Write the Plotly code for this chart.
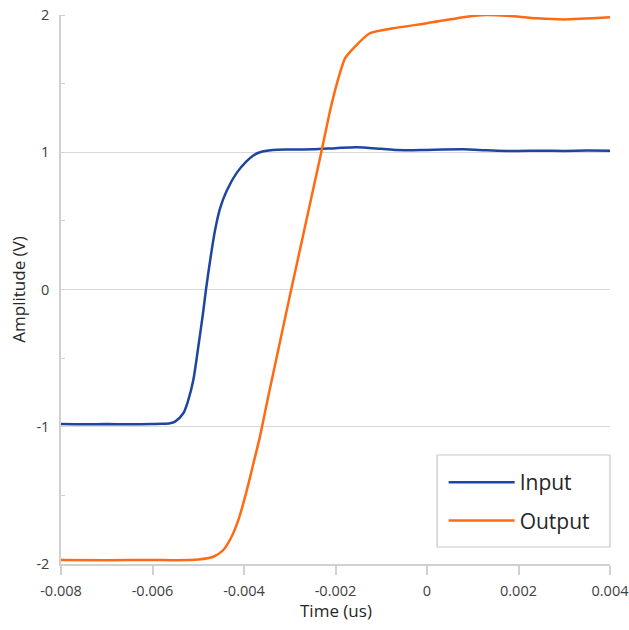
import plotly.graph_objects as go

# Input (blue) trace, time in us, amplitude in V
t_in = [-0.008, -0.0075, -0.007, -0.0065, -0.006, -0.0058, -0.005617, -0.005508, -0.005327,
        -0.005217, -0.005108, -0.004999, -0.004896, -0.004831, -0.004732, -0.004634,
        -0.004525, -0.004378, -0.00416, -0.003941, -0.003803, -0.00365, -0.00337, -0.0030,
        -0.0025, -0.0020, -0.00154, -0.0010, -0.00066, -0.0003, 0.0, 0.00079, 0.0013,
        0.00188, 0.0025, 0.0030, 0.0035, 0.004]
v_in = [-0.98, -0.982, -0.98, -0.982, -0.98, -0.979, -0.975, -0.963, -0.902,
        -0.805, -0.66, -0.417, -0.173, 0.0, 0.23, 0.43,
        0.59, 0.72, 0.85, 0.935, 0.975, 1.0, 1.016, 1.02,
        1.022, 1.03, 1.037, 1.025, 1.016, 1.015, 1.017, 1.021, 1.015,
        1.009, 1.011, 1.01, 1.012, 1.011]

# Output (orange) trace
t_out = [-0.008, -0.007, -0.006, -0.0055, -0.005, -0.004671, -0.004452, -0.004269,
         -0.004124, -0.004015, -0.003906, -0.003796, -0.00365, -0.00347, -0.0030, -0.0023,
         -0.00212, -0.00197, -0.00179, -0.00161, -0.00125, -0.00074, 0.0, 0.00087, 0.0013,
         0.00174, 0.0024, 0.0030, 0.004]
v_out = [-1.97, -1.972, -1.97, -1.972, -1.967, -1.947, -1.898, -1.80,
         -1.68, -1.558, -1.42, -1.27, -1.07, -0.78, -0.05, 1.016,
         1.30, 1.50, 1.685, 1.757, 1.867, 1.903, 1.94, 1.988, 2.0,
         1.995, 1.976, 1.968, 1.983]

x_ticks = [-0.008, -0.006, -0.004, -0.002, 0, 0.002, 0.004]
x_labels = ["-0.008", "-0.006", "-0.004", "-0.002", "0", "0.002", "0.004"]
y_ticks = [-2, -1, 0, 1, 2]
y_labels = ["-2", "-1", "0", "1", "2"]

FONT = "Open Sans"
AX = "#d0d0d0"
TXT = "#404040"

fig = go.Figure()
fig.add_trace(go.Scatter(x=t_in, y=v_in, mode="lines", name="Input", legendgroup="a",
                         line=dict(color="#1F45A0", width=2.5, shape="spline", smoothing=0.8)))
fig.add_trace(go.Scatter(x=t_out, y=v_out, mode="lines", name="Output", legendgroup="b",
                         line=dict(color="#FF6A13", width=2.5, shape="spline", smoothing=0.6)))

# legend frame
fig.add_shape(type="rect", xref="paper", yref="paper", x0=0.685, x1=1.0, y0=0.031, y1=0.1985,
              line=dict(color="#c8c8c8", width=1.2), fillcolor="rgba(0,0,0,0)", layer="above")

# x-axis title
fig.add_annotation(text="Time (us)", xref="paper", yref="paper", x=0.5, y=-0.0838,
                   xanchor="center", yanchor="middle", showarrow=False,
                   font=dict(family=FONT, size=17, color="#262626"))

fig.update_layout(
    width=629, height=630,
    margin=dict(l=61, r=19, t=15, b=66),
    paper_bgcolor="white", plot_bgcolor="white",
    font=dict(family=FONT, size=14.5, color=TXT),
    showlegend=True,
    legend=dict(x=0.697, y=0.1858, xanchor="left", yanchor="top",
                borderwidth=0, bgcolor="rgba(0,0,0,0)",
                font=dict(family=FONT, size=21, color="#262626"),
                traceorder="grouped", tracegroupgap=8, itemwidth=66),
    xaxis=dict(range=[-0.008, 0.004], tickvals=x_ticks, ticktext=x_labels, automargin=False,
               showgrid=False, zeroline=False, showline=True, linecolor=AX, linewidth=1.5,
               ticks="outside", ticklen=9, tickcolor=AX, tickwidth=1.5, ticklabelstandoff=4,
               ticklabeloverflow="allow",
               tickfont=dict(family=FONT, size=14.5, color=TXT)),
    yaxis=dict(range=[-2, 2], tickvals=y_ticks, ticktext=y_labels, automargin=False,
               showgrid=True, gridcolor="#d9d9d9", gridwidth=1.2, zeroline=False,
               showline=True, linecolor=AX, linewidth=1.5, ticks="",
               ticklabelstandoff=7,
               tickfont=dict(family=FONT, size=14.5, color=TXT),
               minor=dict(dtick=0.5, ticks="inside", ticklen=4, tickcolor=AX, showgrid=False),
               title=dict(text="Amplitude (V)", font=dict(family=FONT, size=17, color="#262626"), standoff=6)),
)

fig.write_html("out.html", config={"displayModeBar": False},
               post_script="document.body.style.margin='0';document.body.style.padding='0';")
